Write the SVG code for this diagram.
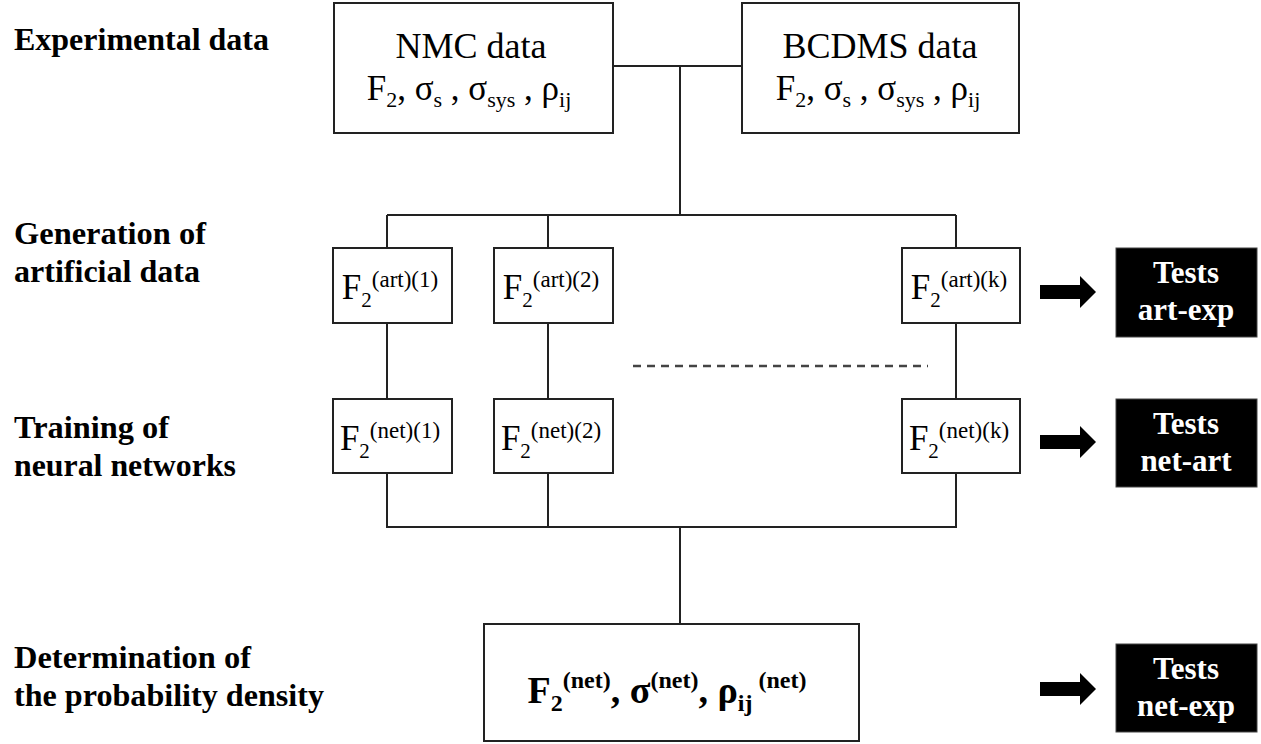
<svg xmlns="http://www.w3.org/2000/svg" width="1261" height="744" viewBox="0 0 1261 744">
<style>
  .box { fill: #fff; stroke: #222; stroke-width: 2; }
  .tbox { fill: #000; stroke: #444; stroke-width: 1; }
  .ln { stroke: #222; stroke-width: 2; fill: none; }
  .dash { stroke: #444; stroke-width: 2.5; stroke-dasharray: 8 6; fill: none; }
  .lab { font-family: "Liberation Serif", "Times New Roman", serif; font-weight: bold; font-size: 31px; fill: #000; }
  .t { font-family: "Liberation Serif", "Times New Roman", serif; fill: #000; }
  .tw { font-family: "Liberation Serif", "Times New Roman", serif; font-weight: bold; font-size: 31px; fill: #fff; text-anchor: middle; }
  .arr { fill: #000; }
</style>
<rect width="1261" height="744" fill="#fff"/>

<g id="labels">
  <text class="lab" x="14" y="50" textLength="255" lengthAdjust="spacingAndGlyphs">Experimental data</text>
  <text class="lab" x="14" y="244" textLength="192" lengthAdjust="spacingAndGlyphs">Generation of</text>
  <text class="lab" x="14" y="282" textLength="186" lengthAdjust="spacingAndGlyphs">artificial data</text>
  <text class="lab" x="14" y="438" textLength="155" lengthAdjust="spacingAndGlyphs">Training of</text>
  <text class="lab" x="14" y="476" textLength="222" lengthAdjust="spacingAndGlyphs">neural networks</text>
  <text class="lab" x="14" y="668" textLength="237" lengthAdjust="spacingAndGlyphs">Determination of</text>
  <text class="lab" x="14" y="706" textLength="310" lengthAdjust="spacingAndGlyphs">the probability density</text>
</g>

<g id="connectors">
  <line class="ln" x1="613" y1="66" x2="742" y2="66"/>
  <line class="ln" x1="680" y1="66" x2="680" y2="215"/>
  <line class="ln" x1="387" y1="215" x2="956" y2="215"/>
  <line class="ln" x1="387" y1="215" x2="387" y2="248"/>
  <line class="ln" x1="548" y1="215" x2="548" y2="248"/>
  <line class="ln" x1="956" y1="215" x2="956" y2="248"/>
  <line class="ln" x1="387" y1="323" x2="387" y2="399"/>
  <line class="ln" x1="548" y1="323" x2="548" y2="399"/>
  <line class="ln" x1="956" y1="323" x2="956" y2="399"/>
  <line class="ln" x1="387" y1="473" x2="387" y2="527"/>
  <line class="ln" x1="548" y1="473" x2="548" y2="527"/>
  <line class="ln" x1="956" y1="473" x2="956" y2="527"/>
  <line class="ln" x1="386" y1="527" x2="957" y2="527"/>
  <line class="ln" x1="680" y1="527" x2="680" y2="624"/>
  <line class="dash" x1="633" y1="366" x2="928" y2="366"/>
  <path class="arr" d="M1040,285 H1080 V276 L1096,292 L1080,308 V299 H1040 Z"/>
  <path class="arr" d="M1040,435 H1080 V426 L1096,442 L1080,458 V449 H1040 Z"/>
  <path class="arr" d="M1040,682 H1080 V673 L1096,689 L1080,705 V696 H1040 Z"/>
</g>

<g id="nmc">
  <rect class="box" x="334" y="3" width="279" height="130"/>
  <text class="t" x="471" y="58" font-size="36" text-anchor="middle">NMC data</text>
  <text class="t" x="469" y="100" font-size="35" text-anchor="middle">F<tspan font-size="22" dy="7">2</tspan><tspan dy="-7">, σ</tspan><tspan font-size="22" dy="7">s</tspan><tspan dy="-7"> , σ</tspan><tspan font-size="22" dy="7">sys</tspan><tspan dy="-7"> , ρ</tspan><tspan font-size="22" dy="7">ij</tspan></text>
</g>

<g id="bcdms">
  <rect class="box" x="742" y="3" width="277" height="130"/>
  <text class="t" x="880" y="58" font-size="36" text-anchor="middle">BCDMS data</text>
  <text class="t" x="878" y="100" font-size="35" text-anchor="middle">F<tspan font-size="22" dy="7">2</tspan><tspan dy="-7">, σ</tspan><tspan font-size="22" dy="7">s</tspan><tspan dy="-7"> , σ</tspan><tspan font-size="22" dy="7">sys</tspan><tspan dy="-7"> , ρ</tspan><tspan font-size="22" dy="7">ij</tspan></text>
</g>

<g id="art1">
  <rect class="box" x="333" y="248" width="119" height="75"/>
  <text class="t" x="390" y="299" font-size="35" text-anchor="middle">F<tspan font-size="21" dy="8">2</tspan><tspan font-size="23" dy="-20">(art)(1)</tspan></text>
</g>
<g id="art2">
  <rect class="box" x="494" y="248" width="119" height="75"/>
  <text class="t" x="551" y="299" font-size="35" text-anchor="middle">F<tspan font-size="21" dy="8">2</tspan><tspan font-size="23" dy="-20">(art)(2)</tspan></text>
</g>
<g id="artk">
  <rect class="box" x="902" y="248" width="118" height="75"/>
  <text class="t" x="959" y="299" font-size="35" text-anchor="middle">F<tspan font-size="21" dy="8">2</tspan><tspan font-size="23" dy="-20">(art)(k)</tspan></text>
</g>

<g id="net1">
  <rect class="box" x="333" y="399" width="119" height="74"/>
  <text class="t" x="390" y="450" font-size="35" text-anchor="middle">F<tspan font-size="21" dy="8">2</tspan><tspan font-size="23" dy="-20">(net)(1)</tspan></text>
</g>
<g id="net2">
  <rect class="box" x="494" y="399" width="119" height="74"/>
  <text class="t" x="551" y="450" font-size="35" text-anchor="middle">F<tspan font-size="21" dy="8">2</tspan><tspan font-size="23" dy="-20">(net)(2)</tspan></text>
</g>
<g id="netk">
  <rect class="box" x="902" y="399" width="118" height="74"/>
  <text class="t" x="959" y="450" font-size="35" text-anchor="middle">F<tspan font-size="21" dy="8">2</tspan><tspan font-size="23" dy="-20">(net)(k)</tspan></text>
</g>

<g id="density">
  <rect class="box" x="484" y="624" width="375" height="117"/>
  <text class="t" x="667" y="703" font-size="38" font-weight="bold" text-anchor="middle">F<tspan font-size="24" dy="8">2</tspan><tspan font-size="24" dy="-23">(net)</tspan><tspan dy="15">, σ</tspan><tspan font-size="24" dy="-15">(net)</tspan><tspan dy="15">, ρ</tspan><tspan font-size="24" dy="8">ij</tspan><tspan font-size="24" dy="-23"> (net)</tspan></text>
</g>

<g id="tests-art-exp">
  <rect class="tbox" x="1116" y="248" width="141" height="89"/>
  <text class="tw" x="1186" y="283">Tests</text>
  <text class="tw" x="1186" y="320">art-exp</text>
</g>
<g id="tests-net-art">
  <rect class="tbox" x="1116" y="399" width="141" height="88"/>
  <text class="tw" x="1186" y="434">Tests</text>
  <text class="tw" x="1186" y="471">net-art</text>
</g>
<g id="tests-net-exp">
  <rect class="tbox" x="1116" y="644" width="141" height="88"/>
  <text class="tw" x="1186" y="679">Tests</text>
  <text class="tw" x="1186" y="716">net-exp</text>
</g>
</svg>
